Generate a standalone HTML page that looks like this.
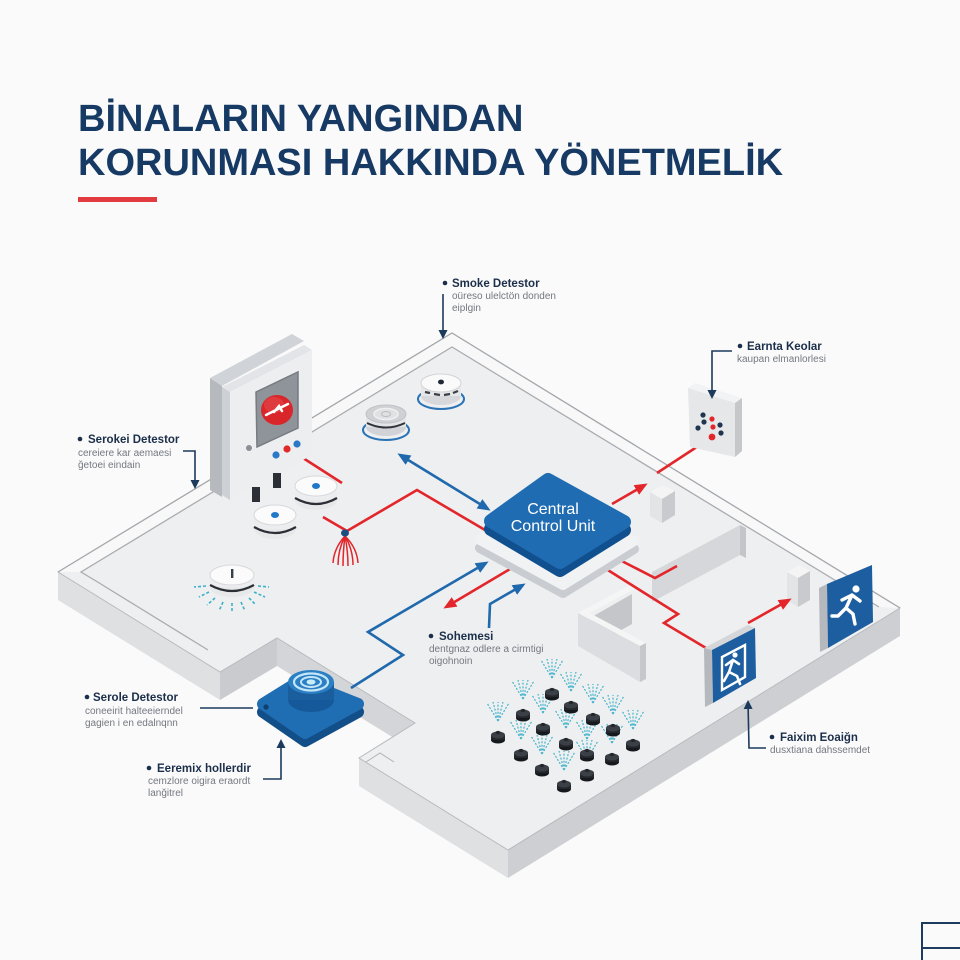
<!DOCTYPE html>
<html><head><meta charset="utf-8">
<style>
html,body{margin:0;padding:0;background:#fafafa;}
svg{display:block;}
</style></head><body>
<svg width="960" height="960" viewBox="0 0 960 960" xmlns="http://www.w3.org/2000/svg" font-family="Liberation Sans, Arial, sans-serif">
<defs>
<marker id="ar" markerWidth="13" markerHeight="13" refX="10" refY="6.5" orient="auto" markerUnits="userSpaceOnUse"><path d="M0,1 L13,6.5 L0,12 z" fill="#e2262b"/></marker>
<marker id="ab" markerWidth="13" markerHeight="13" refX="10" refY="6.5" orient="auto" markerUnits="userSpaceOnUse"><path d="M0,1 L13,6.5 L0,12 z" fill="#1f69ac"/></marker>
<marker id="abs" markerWidth="13" markerHeight="13" refX="10" refY="6.5" orient="auto-start-reverse" markerUnits="userSpaceOnUse"><path d="M0,1 L13,6.5 L0,12 z" fill="#1f69ac"/></marker>
<marker id="an" markerWidth="9" markerHeight="9" refX="7" refY="4.5" orient="auto" markerUnits="userSpaceOnUse"><path d="M0,0 L9,4.5 L0,9 z" fill="#1b3a5c"/></marker>
</defs>
<rect width="960" height="960" fill="#fafafa"/>

<!-- Title -->
<text x="78" y="131" font-size="38" font-weight="bold" fill="#173a64">BİNALARIN YANGINDAN</text>
<text x="78" y="175" font-size="38" font-weight="bold" fill="#173a64">KORUNMASI HAKKINDA YÖNETMELİK</text>
<rect x="78" y="197" width="79" height="5" fill="#e23b3f"/>

<!-- Floor side faces -->
<polygon points="58,572 220,672 220,700 58,600" fill="#dfe0e2"/>
<polygon points="220,672 277,638 277,666 220,700" fill="#c9cbcf"/>
<polygon points="277,638 415,723 415,751 277,666" fill="#d4d5d8"/>
<polygon points="359,758 508,850 508,878 359,786" fill="#dfe0e2"/>
<polygon points="508,850 900,608 900,636 508,878" fill="#cdcfd2"/>
<!-- Floor top -->
<polygon points="452,333 900,608 508,850 359,758 415,723 277,638 220,672 58,572" fill="#eeeff0" stroke="#b8bbbf" stroke-width="1"/>
<!-- rim band -->
<polygon points="58,572 452,333 900,608 879,607 452,347 81,572" fill="#f8f8f9"/>
<polyline points="208,650 96,581 81,572 452,347 879,607" fill="none" stroke="#a9acb0" stroke-width="1.3"/>
<polyline points="58,572 452,333 900,608" fill="none" stroke="#a4a7ab" stroke-width="1.3"/>
<polyline points="366,762 380,753 394,762" fill="none" stroke="#b0b3b7" stroke-width="1"/>

<!-- Long wall -->
<polygon points="652,572 740,525 746,528 658,575" fill="#f5f5f6"/>
<polygon points="652,572 740,525 740,555 652,602" fill="#d6d7da"/>
<polygon points="740,525 746,528 746,558 740,555" fill="#c3c5c9"/>
<!-- L-wall -->
<polygon points="590,618 632,594 632,624 600,642" fill="#c4c6ca"/>
<polygon points="578,613 630,585 636,588 584,616" fill="#f5f5f6"/>
<polygon points="578,613 640,646 646,643 584,610" fill="#f5f5f6"/>
<polygon points="578,613 640,646 640,682 578,646" fill="#dcdde0"/>
<polygon points="640,646 646,643 646,679 640,682" fill="#c5c7cb"/>
<!-- Pillars -->
<polygon points="650,492 663,485 675,491 662,499" fill="#f4f4f5"/>
<polygon points="650,492 662,499 662,523 650,516" fill="#e3e4e6"/>
<polygon points="662,499 675,491 675,515 662,523" fill="#c8cacd"/>
<polygon points="787,572 799,565 810,571 798,578" fill="#f4f4f5"/>
<polygon points="787,572 798,578 798,607 787,600" fill="#e3e4e6"/>
<polygon points="798,578 810,571 810,600 798,607" fill="#c8cacd"/>

<!-- Connectors -->
<g fill="none" stroke-width="2.6" stroke-linejoin="miter">
<path d="M303,458 L342,483" stroke="#e2262b"/>
<path d="M323,517 L347,531 L417,490 L485,530" stroke="#e2262b"/>
<path d="M612,504 L645,485" stroke="#e2262b" marker-end="url(#ar)"/>
<path d="M657,473 L712,437" stroke="#e2262b"/>
<path d="M612,556 L655,578 L677,566" stroke="#e2262b"/>
<path d="M603,567 L678,614 L664,623 L706,648" stroke="#e2262b"/>
<path d="M748,623 L789,600" stroke="#e2262b" marker-end="url(#ar)"/>
<path d="M510,569 L446,607" stroke="#e2262b" marker-end="url(#ar)"/>
<path d="M400,455 L488,509" stroke="#1f69ac" marker-start="url(#abs)" marker-end="url(#ab)"/>
<path d="M351,688 L403,655 L368,632 L486,563" stroke="#1f69ac" marker-end="url(#ab)"/>
<path d="M489,628 L490,604 L523,585" stroke="#1f69ac" marker-end="url(#ab)"/>
</g>

<!-- Central control unit -->
<polygon points="480,548 551,508 634,549 563,593" fill="#c9ccd0" stroke="#c9ccd0" stroke-width="10" stroke-linejoin="round"/>
<polygon points="480,540 551,500 634,541 563,585" fill="#f1f2f4" stroke="#f1f2f4" stroke-width="10" stroke-linejoin="round"/>
<polygon points="491,529 548,488 624,530 560,570" fill="#11508f" stroke="#11508f" stroke-width="14" stroke-linejoin="round"/>
<polygon points="491,521 548,480 624,522 560,562" fill="#1f6cb2" stroke="#1f6cb2" stroke-width="14" stroke-linejoin="round"/>
<text x="553" y="514" font-size="16" fill="#ffffff" text-anchor="middle">Central</text>
<text x="553" y="531" font-size="16" fill="#ffffff" text-anchor="middle">Control Unit</text>

<!-- Fire alarm panel -->
<polygon points="210,378 292,334 304,341 222,386" fill="#d0d3d7"/>
<polygon points="210,378 222,386 222,497 210,490" fill="#b6b9be"/>
<polygon points="222,387 304,345 312,350 230,392" fill="#e2e4e7"/>
<polygon points="222,387 230,392 230,500 222,495" fill="#cdd0d4"/>
<polygon points="230,392 312,350 312,455 230,500" fill="#eceef0"/>
<polygon points="256,392 298,372 298,428 257,447" fill="#8f939a" stroke="#777b82" stroke-width="1.5"/>
<ellipse cx="277" cy="410" rx="16" ry="15" fill="#d8262b"/>
<ellipse cx="274" cy="405" rx="10" ry="8" fill="#e54a4c" opacity="0.6"/>
<path d="M266,415 L288,404 M274,412 L279,406 L282,411" stroke="#ffffff" stroke-width="2.5" fill="none" stroke-linecap="round"/>
<circle cx="249" cy="448" r="3" fill="#8c9096"/>
<circle cx="276" cy="455" r="3.6" fill="#2a78c6"/>
<circle cx="287" cy="449" r="3.6" fill="#e02a2a"/>
<circle cx="297" cy="444" r="3.6" fill="#2a78c6"/>
<rect x="252" y="487" width="8" height="15" fill="#2c3036"/>
<rect x="273" y="473" width="8" height="15" fill="#2c3036"/>

<!-- Smoke detectors -->
<!-- D1 -->
<ellipse cx="441" cy="399" rx="23" ry="10" fill="none" stroke="#2a74b5" stroke-width="2"/>
<ellipse cx="441" cy="396" rx="20" ry="9" fill="#d6d8db"/>
<rect x="421" y="383" width="40" height="13" fill="#e6e7e9"/>
<g stroke="#3a3f46" stroke-width="2.2"><line x1="425" y1="392" x2="430" y2="393"/><line x1="434" y1="394" x2="440" y2="395"/><line x1="444" y1="395" x2="450" y2="394"/><line x1="453" y1="393" x2="458" y2="391"/></g>
<ellipse cx="441" cy="383" rx="20" ry="9" fill="#fafafa" stroke="#d2d4d7" stroke-width="1"/>
<ellipse cx="441" cy="382" rx="3" ry="2.4" fill="#1f2a36"/>
<!-- D2 -->
<ellipse cx="386" cy="430" rx="23" ry="10" fill="none" stroke="#2a74b5" stroke-width="2"/>
<ellipse cx="386" cy="427" rx="20" ry="9" fill="#d1d3d6"/>
<rect x="366" y="414" width="40" height="13" fill="#e4e5e7"/>
<path d="M367,423 Q386,432 405,423" fill="none" stroke="#30353c" stroke-width="2"/>
<ellipse cx="386" cy="414" rx="20" ry="9" fill="#cfd1d4" stroke="#c0c2c6" stroke-width="1"/>
<ellipse cx="386" cy="414" rx="12" ry="5.5" fill="#dfe1e3" stroke="#eef0f2" stroke-width="1.5"/>
<ellipse cx="386" cy="414" rx="4.5" ry="2.5" fill="none" stroke="#b9bcc0" stroke-width="1"/>
<!-- D3 -->
<ellipse cx="316" cy="500" rx="21" ry="10" fill="#e7e8ea"/>
<rect x="295" y="486" width="42" height="14" fill="#ecedef"/>
<path d="M295,498 Q316,510 337,498" fill="none" stroke="#2b2f35" stroke-width="2.2"/>
<ellipse cx="316" cy="486" rx="21" ry="10" fill="#fbfbfb" stroke="#d6d8db" stroke-width="1"/>
<ellipse cx="316" cy="486" rx="4" ry="3" fill="#2178c8"/>
<!-- D4 -->
<ellipse cx="275" cy="529" rx="21" ry="10" fill="#e7e8ea"/>
<rect x="254" y="515" width="42" height="14" fill="#ecedef"/>
<path d="M254,527 Q275,539 296,527" fill="none" stroke="#2b2f35" stroke-width="2.2"/>
<ellipse cx="275" cy="515" rx="21" ry="10" fill="#fbfbfb" stroke="#d6d8db" stroke-width="1"/>
<ellipse cx="275" cy="515" rx="4" ry="3" fill="#2178c8"/>
<!-- D5 -->
<g stroke="#3cb0c9" stroke-width="1.6" stroke-dasharray="3 2">
<line x1="206" y1="586" x2="194" y2="587"/><line x1="209" y1="592" x2="199" y2="597"/><line x1="215" y1="598" x2="207" y2="605"/><line x1="223" y1="602" x2="219" y2="611"/><line x1="232" y1="603" x2="232" y2="612"/><line x1="241" y1="602" x2="245" y2="611"/><line x1="249" y1="598" x2="256" y2="605"/><line x1="254" y1="592" x2="265" y2="597"/><line x1="258" y1="586" x2="269" y2="587"/>
</g>
<ellipse cx="232" cy="587" rx="22" ry="10" fill="#e7e8ea"/>
<rect x="210" y="575" width="44" height="12" fill="#ecedef"/>
<path d="M210,585 Q232,597 254,585" fill="none" stroke="#2b2f35" stroke-width="2.2"/>
<ellipse cx="232" cy="575" rx="22" ry="10" fill="#fbfbfb" stroke="#d6d8db" stroke-width="1"/>
<rect x="231" y="569" width="2.4" height="9" fill="#3a3f46"/>

<!-- red sprinkler -->
<g fill="none" stroke="#e0262b" stroke-width="1.5">
<path d="M345,536 Q334,548 333,563"/><path d="M345,536 Q338,550 338,565"/><path d="M345,536 Q343,551 343,566"/><path d="M345,536 Q348,551 348,566"/><path d="M345,536 Q353,550 353,565"/><path d="M345,536 Q357,548 358,563"/>
</g>
<ellipse cx="345" cy="533" rx="4" ry="3.5" fill="#1c4f80"/>

<!-- Earnta device -->
<polygon points="688,388 695,383 742,398 735,403" fill="#f2f3f4"/>
<polygon points="688,388 735,403 735,457 690,447" fill="#e6e7e9"/>
<polygon points="735,403 742,398 742,451 735,457" fill="#c5c7cb"/>
<g fill="#1f3550"><circle cx="703" cy="415" r="2.6"/><circle cx="704" cy="422" r="2.6"/><circle cx="720" cy="425" r="2.6"/><circle cx="698" cy="428" r="2.6"/><circle cx="721" cy="433" r="2.6"/></g>
<g fill="#e2262b"><circle cx="712" cy="419" r="2.6"/><circle cx="713" cy="427" r="2.6"/><circle cx="712" cy="437" r="3.4"/></g>

<!-- Exit sign 1 -->
<polygon points="704,648 748,625 755,628 712,650" fill="#d4d6d9"/>
<polygon points="704,648 712,650 713,703 705,707" fill="#b5b8bd"/>
<polygon points="712,650 755,628 756,678 713,703" fill="#1c5e9f"/>
<polygon points="722,690 722,657 745,645 745,677" fill="none" stroke="#ffffff" stroke-width="2.4"/>
<circle cx="735" cy="655" r="2.6" fill="#fff"/>
<path d="M733,660 L729,672 L724,681 M729,672 L737,676 L740,684 M726,665 L733,660 L739,664" fill="none" stroke="#fff" stroke-width="2.6" stroke-linecap="round"/>
<!-- Exit sign 2 -->
<polygon points="819,588 864,568 872,565 827,584" fill="#d4d6d9"/>
<polygon points="819,588 827,584 828,648 820,652" fill="#b5b8bd"/>
<polygon points="827,584 872,565 873,622 828,648" fill="#1c5e9f"/>
<circle cx="856" cy="589" r="3.6" fill="#fff"/>
<path d="M852,595 L846,608 L838,616 L832,616 M846,608 L853,614 L855,624 M842,600 L852,595 L860,601" fill="none" stroke="#fff" stroke-width="3.4" stroke-linecap="round" stroke-linejoin="round"/>

<!-- Blue button device -->
<polygon points="263,712 300,689 358,712 305,741" fill="#124e87" stroke="#124e87" stroke-width="12" stroke-linejoin="round"/>
<polygon points="263,704 300,681 358,704 305,733" fill="#1f6db3" stroke="#1f6db3" stroke-width="12" stroke-linejoin="round"/>
<circle cx="266" cy="707" r="2.6" fill="#0e3f6e"/>
<ellipse cx="311" cy="700" rx="23" ry="12" fill="#16599a"/>
<rect x="288" y="682" width="46" height="18" fill="#1a5e9e"/>
<ellipse cx="311" cy="682" rx="23" ry="12" fill="#2b7fc4"/>
<ellipse cx="311" cy="682" rx="17" ry="8.5" fill="none" stroke="#c4e6f6" stroke-width="2.2"/>
<ellipse cx="311" cy="682" rx="10" ry="5" fill="none" stroke="#c4e6f6" stroke-width="2"/>
<ellipse cx="311" cy="682" rx="4.5" ry="2.6" fill="#c8ecf8"/>

<!-- Sprinkler cluster: sprays -->
<g stroke="#46b5cc" stroke-width="1.2" stroke-dasharray="2 1.6" fill="none">
<path d="M552,678 l-11,-18 M552,678 l-5,-19 M552,678 l0,-19 M552,678 l5,-19 M552,678 l11,-18"/>
<path d="M571,691 l-11,-18 M571,691 l-5,-19 M571,691 l0,-19 M571,691 l5,-19 M571,691 l11,-18"/>
<path d="M523,699 l-11,-18 M523,699 l-5,-19 M523,699 l0,-19 M523,699 l5,-19 M523,699 l11,-18"/>
<path d="M593,703 l-11,-18 M593,703 l-5,-19 M593,703 l0,-19 M593,703 l5,-19 M593,703 l11,-18"/>
<path d="M543,713 l-11,-18 M543,713 l-5,-19 M543,713 l0,-19 M543,713 l5,-19 M543,713 l11,-18"/>
<path d="M613,714 l-11,-18 M613,714 l-5,-19 M613,714 l0,-19 M613,714 l5,-19 M613,714 l11,-18"/>
<path d="M498,721 l-11,-18 M498,721 l-5,-19 M498,721 l0,-19 M498,721 l5,-19 M498,721 l11,-18"/>
<path d="M566,728 l-11,-18 M566,728 l-5,-19 M566,728 l0,-19 M566,728 l5,-19 M566,728 l11,-18"/>
<path d="M633,729 l-11,-18 M633,729 l-5,-19 M633,729 l0,-19 M633,729 l5,-19 M633,729 l11,-18"/>
<path d="M521,739 l-11,-18 M521,739 l-5,-19 M521,739 l0,-19 M521,739 l5,-19 M521,739 l11,-18"/>
<path d="M587,739 l-11,-18 M587,739 l-5,-19 M587,739 l0,-19 M587,739 l5,-19 M587,739 l11,-18"/>
<path d="M612,743 l-11,-18 M612,743 l-5,-19 M612,743 l0,-19 M612,743 l5,-19 M612,743 l11,-18"/>
<path d="M542,754 l-11,-18 M542,754 l-5,-19 M542,754 l0,-19 M542,754 l5,-19 M542,754 l11,-18"/>
<path d="M587,759 l-11,-18 M587,759 l-5,-19 M587,759 l0,-19 M587,759 l5,-19 M587,759 l11,-18"/>
<path d="M564,770 l-11,-18 M564,770 l-5,-19 M564,770 l0,-19 M564,770 l5,-19 M564,770 l11,-18"/>
</g>
<!-- sprinkler heads -->
<g id="heads">
<g transform="translate(552,692)"><ellipse cx="0" cy="5" rx="7" ry="3.5" fill="#15181c"/><rect x="-7" y="0" width="14" height="5" fill="#23272c"/><ellipse cx="0" cy="0" rx="7" ry="3.5" fill="#3b4047"/><ellipse cx="0" cy="-2.5" rx="2.5" ry="1.6" fill="#23272c"/></g>
<g transform="translate(571,705)"><ellipse cx="0" cy="5" rx="7" ry="3.5" fill="#15181c"/><rect x="-7" y="0" width="14" height="5" fill="#23272c"/><ellipse cx="0" cy="0" rx="7" ry="3.5" fill="#3b4047"/><ellipse cx="0" cy="-2.5" rx="2.5" ry="1.6" fill="#23272c"/></g>
<g transform="translate(523,713)"><ellipse cx="0" cy="5" rx="7" ry="3.5" fill="#15181c"/><rect x="-7" y="0" width="14" height="5" fill="#23272c"/><ellipse cx="0" cy="0" rx="7" ry="3.5" fill="#3b4047"/><ellipse cx="0" cy="-2.5" rx="2.5" ry="1.6" fill="#23272c"/></g>
<g transform="translate(593,717)"><ellipse cx="0" cy="5" rx="7" ry="3.5" fill="#15181c"/><rect x="-7" y="0" width="14" height="5" fill="#23272c"/><ellipse cx="0" cy="0" rx="7" ry="3.5" fill="#3b4047"/><ellipse cx="0" cy="-2.5" rx="2.5" ry="1.6" fill="#23272c"/></g>
<g transform="translate(543,727)"><ellipse cx="0" cy="5" rx="7" ry="3.5" fill="#15181c"/><rect x="-7" y="0" width="14" height="5" fill="#23272c"/><ellipse cx="0" cy="0" rx="7" ry="3.5" fill="#3b4047"/><ellipse cx="0" cy="-2.5" rx="2.5" ry="1.6" fill="#23272c"/></g>
<g transform="translate(613,728)"><ellipse cx="0" cy="5" rx="7" ry="3.5" fill="#15181c"/><rect x="-7" y="0" width="14" height="5" fill="#23272c"/><ellipse cx="0" cy="0" rx="7" ry="3.5" fill="#3b4047"/><ellipse cx="0" cy="-2.5" rx="2.5" ry="1.6" fill="#23272c"/></g>
<g transform="translate(498,735)"><ellipse cx="0" cy="5" rx="7" ry="3.5" fill="#15181c"/><rect x="-7" y="0" width="14" height="5" fill="#23272c"/><ellipse cx="0" cy="0" rx="7" ry="3.5" fill="#3b4047"/><ellipse cx="0" cy="-2.5" rx="2.5" ry="1.6" fill="#23272c"/></g>
<g transform="translate(566,742)"><ellipse cx="0" cy="5" rx="7" ry="3.5" fill="#15181c"/><rect x="-7" y="0" width="14" height="5" fill="#23272c"/><ellipse cx="0" cy="0" rx="7" ry="3.5" fill="#3b4047"/><ellipse cx="0" cy="-2.5" rx="2.5" ry="1.6" fill="#23272c"/></g>
<g transform="translate(633,743)"><ellipse cx="0" cy="5" rx="7" ry="3.5" fill="#15181c"/><rect x="-7" y="0" width="14" height="5" fill="#23272c"/><ellipse cx="0" cy="0" rx="7" ry="3.5" fill="#3b4047"/><ellipse cx="0" cy="-2.5" rx="2.5" ry="1.6" fill="#23272c"/></g>
<g transform="translate(521,753)"><ellipse cx="0" cy="5" rx="7" ry="3.5" fill="#15181c"/><rect x="-7" y="0" width="14" height="5" fill="#23272c"/><ellipse cx="0" cy="0" rx="7" ry="3.5" fill="#3b4047"/><ellipse cx="0" cy="-2.5" rx="2.5" ry="1.6" fill="#23272c"/></g>
<g transform="translate(587,753)"><ellipse cx="0" cy="5" rx="7" ry="3.5" fill="#15181c"/><rect x="-7" y="0" width="14" height="5" fill="#23272c"/><ellipse cx="0" cy="0" rx="7" ry="3.5" fill="#3b4047"/><ellipse cx="0" cy="-2.5" rx="2.5" ry="1.6" fill="#23272c"/></g>
<g transform="translate(612,757)"><ellipse cx="0" cy="5" rx="7" ry="3.5" fill="#15181c"/><rect x="-7" y="0" width="14" height="5" fill="#23272c"/><ellipse cx="0" cy="0" rx="7" ry="3.5" fill="#3b4047"/><ellipse cx="0" cy="-2.5" rx="2.5" ry="1.6" fill="#23272c"/></g>
<g transform="translate(542,768)"><ellipse cx="0" cy="5" rx="7" ry="3.5" fill="#15181c"/><rect x="-7" y="0" width="14" height="5" fill="#23272c"/><ellipse cx="0" cy="0" rx="7" ry="3.5" fill="#3b4047"/><ellipse cx="0" cy="-2.5" rx="2.5" ry="1.6" fill="#23272c"/></g>
<g transform="translate(587,773)"><ellipse cx="0" cy="5" rx="7" ry="3.5" fill="#15181c"/><rect x="-7" y="0" width="14" height="5" fill="#23272c"/><ellipse cx="0" cy="0" rx="7" ry="3.5" fill="#3b4047"/><ellipse cx="0" cy="-2.5" rx="2.5" ry="1.6" fill="#23272c"/></g>
<g transform="translate(564,784)"><ellipse cx="0" cy="5" rx="7" ry="3.5" fill="#15181c"/><rect x="-7" y="0" width="14" height="5" fill="#23272c"/><ellipse cx="0" cy="0" rx="7" ry="3.5" fill="#3b4047"/><ellipse cx="0" cy="-2.5" rx="2.5" ry="1.6" fill="#23272c"/></g>
</g>

<!-- Leader lines -->
<g fill="none" stroke="#1b3a5c" stroke-width="1.6">
<path d="M443,294 L443,337" marker-end="url(#an)"/>
<path d="M183,451 L195,451 L195,487" marker-end="url(#an)"/>
<path d="M732,351 L712,351 L712,397" marker-end="url(#an)"/>
<path d="M200,708 L253,708"/>
<path d="M263,779 L281,779 L281,741" marker-end="url(#an)"/>
<path d="M766,748 L749,748 L748,702" marker-end="url(#an)"/>
</g>

<!-- Labels -->
<g fill="#1b2f4a" font-weight="bold" font-size="11.5">
<circle cx="445" cy="283" r="2.3"/><text x="452" y="287">Smoke Detestor</text>
<circle cx="80" cy="439" r="2.3"/><text x="88" y="443">Serokei Detestor</text>
<circle cx="740" cy="346" r="2.3"/><text x="747" y="350">Earnta Keolar</text>
<circle cx="431" cy="636" r="2.3"/><text x="439" y="640">Sohemesi</text>
<circle cx="87" cy="697" r="2.3"/><text x="93" y="701">Serole Detestor</text>
<circle cx="149" cy="768" r="2.3"/><text x="157" y="772">Eeremix hollerdir</text>
<circle cx="772" cy="737" r="2.3"/><text x="780" y="741">Faixim Eoaiğn</text>
</g>
<g fill="#737880" font-size="10">
<text x="452" y="299">oüreso ulelctön donden</text>
<text x="452" y="311">eiplgin</text>
<text x="78" y="456">cereiere kar aemaesi</text>
<text x="78" y="468">ğetoei eindain</text>
<text x="737" y="362">kaupan elmanlorlesi</text>
<text x="429" y="652">dentgnaz odlere a cirmtigi</text>
<text x="429" y="664">oigohnoin</text>
<text x="85" y="714">coneeirit halteeierndel</text>
<text x="85" y="726">gagien i en edalnqnn</text>
<text x="148" y="784">cemzlore oigira eraordt</text>
<text x="148" y="796">lanğitrel</text>
<text x="770" y="753">dusxtiana dahssemdet</text>
</g>

<!-- corner mark -->
<path d="M922,960 V923 H960 M922,948 H960" fill="none" stroke="#1d3b5e" stroke-width="2"/>
</svg>
</body></html>
